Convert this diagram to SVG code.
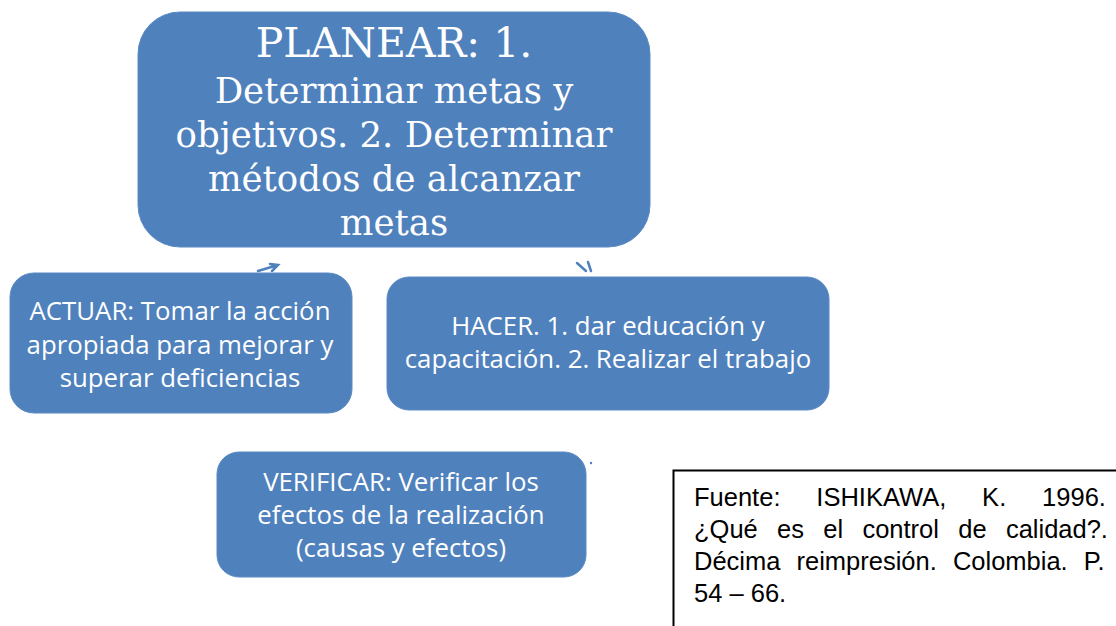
<svg xmlns="http://www.w3.org/2000/svg" width="1116" height="626" viewBox="0 0 1116 626">
<style>
.box{fill:#4F81BD;stroke:#5a8ac3;stroke-width:1}
.serif{font-family:"DejaVu Serif","Liberation Serif",serif;fill:#fff;text-anchor:middle}
.sans{font-family:"Open Sans","Noto Sans",sans-serif;fill:#fff;text-anchor:middle;font-size:25.8px}
.ref{font-family:"Liberation Sans",Arial,sans-serif;fill:#000;font-size:25.5px}
.conn{stroke:#4F81BD;stroke-width:2.5;fill:none;stroke-linecap:round}
</style>
<rect width="1116" height="626" fill="#fff"/>
<g id="planear">
<rect class="box" x="138" y="12" width="512" height="235" rx="42"/>
<text class="serif" x="394" y="57" font-size="41">PLANEAR: 1.</text>
<text class="serif" x="394" y="103" font-size="35.5">Determinar metas y</text>
<text class="serif" x="394" y="147" font-size="35.5">objetivos. 2. Determinar</text>
<text class="serif" x="394" y="191" font-size="35.5">métodos de alcanzar</text>
<text class="serif" x="394" y="235" font-size="35.5">metas</text>
</g>
<g id="actuar">
<rect class="box" x="10" y="273" width="342" height="140" rx="24"/>
<text class="sans" x="180" y="320">ACTUAR: Tomar la acción</text>
<text class="sans" x="180" y="354">apropiada para mejorar y</text>
<text class="sans" x="180" y="387">superar deficiencias</text>
</g>
<g id="hacer">
<rect class="box" x="387" y="277" width="442" height="133" rx="22"/>
<text class="sans" x="608" y="335">HACER. 1. dar educación y</text>
<text class="sans" x="608" y="368">capacitación. 2. Realizar el trabajo</text>
</g>
<g id="verificar">
<rect class="box" x="217" y="452" width="369" height="125" rx="22"/>
<text class="sans" x="401" y="491">VERIFICAR: Verificar los</text>
<text class="sans" x="401" y="524">efectos de la realización</text>
<text class="sans" x="401" y="557">(causas y efectos)</text>
</g>
<g id="connectors">
<path class="conn" d="M258 271 L278 265 M270 264 L278 265 L272 271"/>
<path class="conn" d="M577 263 L586 271 M588 262 L591 271"/>
<circle cx="591" cy="463" r="1.2" fill="#4F81BD"/>
</g>
<g id="fuente">
<rect x="673.5" y="470.5" width="460" height="170" fill="#fff" stroke="#000" stroke-width="2"/>
<text class="ref" x="694" y="506" word-spacing="28.8">Fuente: ISHIKAWA, K. 1996.</text>
<text class="ref" x="694" y="538" word-spacing="12.2">¿Qué es el control de calidad?.</text>
<text class="ref" x="694" y="570" word-spacing="9">Décima reimpresión. Colombia. P.</text>
<text class="ref" x="694" y="602">54 – 66.</text>
</g>
</svg>
